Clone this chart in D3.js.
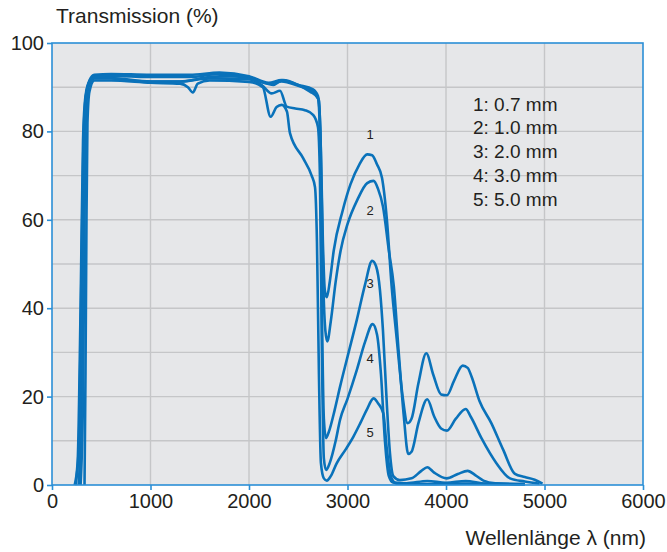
<!DOCTYPE html>
<html>
<head>
<meta charset="utf-8">
<script src="https://cdn.jsdelivr.net/npm/d3@7"></script>
<style>
	body { margin: 0; background: #fff; }
	svg text { font-family: "Liberation Sans", Arial, sans-serif; fill: #231f20; }
</style>
</head>
<body>
<div id="chart"></div>
<script>

// wavelength (nm), transmission (%), one list per sample thickness
const curve1 = [[230,0],[260,5],[290,40],[315,78],[340,88],[380,91.5],[430,92.8],[600,93],[1000,92.8],[1400,92.8],[1700,93.3],[2000,92.5],[2200,91],[2330,91.6],[2500,90.5],[2650,89.5],[2700,88],[2725,80],[2750,55],[2770,44],[2790,42.5],[2820,46],[2860,53],[2950,62],[3030,68],[3120,72.5],[3200,74.8],[3250,74.6],[3300,72.5],[3350,69.5],[3400,60],[3448,45],[3500,33],[3560,20],[3610,14],[3650,15],[3720,23],[3800,29.8],[3870,25],[3950,20.5],[4010,20.3],[4080,23.5],[4170,27],[4220,26.5],[4260,24.5],[4340,19],[4460,14],[4580,8],[4700,2.5],[4800,1.8],[4900,1.2],[4980,0.3]];

const curve2 = [[240,0],[275,10],[300,50],[325,82],[350,89],[400,92],[450,92.5],[700,92.5],[1000,92.3],[1400,92.3],[1700,93],[2000,92.3],[2200,90.8],[2330,91.3],[2500,90.3],[2650,89],[2710,87],[2730,75],[2755,45],[2775,35],[2795,32.5],[2830,37],[2880,46],[2930,53],[3000,59],[3100,64.5],[3200,68.3],[3265,68.8],[3310,67],[3360,63],[3420,53],[3470,45],[3520,30],[3570,16],[3617,7],[3650,7.5],[3720,14],[3810,19.4],[3880,15.5],[3950,12.8],[4010,12.3],[4100,15],[4200,17.2],[4250,15.5],[4360,10.6],[4510,5],[4650,1.5],[4800,0.8],[4950,0.3]];

const curve3 = [[270,0],[295,15],[315,55],[335,84],[360,90],[420,92.3],[500,92.3],[800,91.5],[1000,91.3],[1300,91.3],[1600,92.3],[1800,92.5],[2000,92],[2150,91],[2245,90.5],[2345,91.6],[2500,90.5],[2620,89],[2700,87.5],[2720,80],[2740,40],[2760,15],[2782,10.6],[2810,12],[2870,17],[2924,22.2],[3000,29],[3094,37.3],[3180,45.5],[3250,50.7],[3290,49.5],[3330,44],[3360,35],[3400,18],[3431,7.2],[3465,2],[3530,1.1],[3650,1.5],[3750,3.2],[3810,4],[3880,2.8],[4007,1.5],[4120,2.5],[4220,3.2],[4300,2.2],[4380,1],[4500,0.4],[4800,0.2]];

const curve4 = [[290,0],[315,20],[330,60],[345,85],[370,90],[430,92],[600,92],[1000,91.3],[1300,91.3],[1600,92],[2000,91.8],[2130,90.5],[2230,88.6],[2315,89.2],[2383,85.6],[2470,85.2],[2568,84.8],[2653,83.7],[2700,81],[2720,70],[2740,30],[2760,6],[2782,3.4],[2820,5],[2880,10],[2924,14.7],[3000,19.5],[3094,26],[3180,32.5],[3255,36.4],[3300,34],[3340,25],[3380,10],[3420,2],[3460,0.6],[3600,0.4],[3810,0.9],[4000,0.5],[4200,0.9],[4400,0.3],[4800,0.2]];

const curve5 = [[330,0],[340,25],[350,60],[360,82],[380,89],[430,91.5],[600,91.5],[1000,91],[1300,90.8],[1380,90],[1430,88.8],[1480,90.8],[1600,91.5],[2000,91.2],[2140,90],[2220,83.3],[2280,85.5],[2332,86],[2385,84.5],[2416,79.6],[2548,74],[2636,70],[2670,67.4],[2690,55],[2710,25],[2730,5],[2760,1.5],[2790,1],[2830,2],[2890,4.9],[2980,8],[3059,10.9],[3130,14],[3195,17],[3265,19.6],[3310,18.5],[3364,16.2],[3400,8],[3448,1.5],[3500,0.3],[3800,0.2],[4200,0.3],[4800,0.1]];

const curves = [curve1, curve2, curve3, curve4, curve5];
const curveNames = ['1', '2', '3', '4', '5'];
const legendLabels = ['1: 0.7 mm', '2: 1.0 mm', '3: 2.0 mm', '4: 3.0 mm', '5: 5.0 mm'];

// where the little curve numbers sit, in data units
const numberX = 3230;
const numberY = [79.2, 62.2, 45.5, 28.7, 11.8];

const xTicks = [0, 1000, 2000, 3000, 4000, 5000, 6000];
const yTicks = [0, 20, 40, 60, 80, 100];

// ----------------------------------
// SET UP
// ----------------------------------

const width = 667,
	height = 552,
	margin = {top: 43, right: 24, bottom: 67, left: 52},
	innerWidth = width - margin.left - margin.right,
	innerHeight = height - margin.top - margin.bottom;

const lineBlue = '#0a72ba',
	frameBlue = '#2b8fd6';

const svg = d3.select('#chart')
	.append('svg')
	.attr('width', width)
	.attr('height', height);

const xScale = d3.scaleLinear().domain([0, 6000]).range([0, innerWidth]);
const yScale = d3.scaleLinear().domain([0, 100]).range([innerHeight, 0]);

const chartInner = svg.append('g')
	.attr('transform', `translate(${margin.left}, ${margin.top})`);

// background
chartInner.append('rect')
	.attr('width', innerWidth)
	.attr('height', innerHeight)
	.attr('fill', '#e6e7e9');

// ----------------------------------
// GRID
// ----------------------------------

chartInner.append('g')
	.selectAll('line')
	.data(d3.range(1000, 6000, 1000))
	.join('line')
	.attr('x1', d => xScale(d)).attr('x2', d => xScale(d))
	.attr('y1', 0).attr('y2', innerHeight)
	.attr('stroke', '#c5c6c8').attr('stroke-width', 1.4);

chartInner.append('g')
	.selectAll('line')
	.data(d3.range(10, 100, 10))
	.join('line')
	.attr('y1', d => yScale(d)).attr('y2', d => yScale(d))
	.attr('x1', 0).attr('x2', innerWidth)
	.attr('stroke', '#c5c6c8').attr('stroke-width', 1.4);

// ----------------------------------
// CURVES
// ----------------------------------

const line = d3.line()
	.x(d => xScale(d[0]))
	.y(d => yScale(d[1]))
	.curve(d3.curveMonotoneX);

chartInner.append('g')
	.selectAll('path')
	.data(curves)
	.join('path')
	.attr('d', line)
	.attr('fill', 'none')
	.attr('stroke', lineBlue)
	.attr('stroke-width', 2.6)
	.attr('stroke-linejoin', 'round');

chartInner.append('g')
	.selectAll('text')
	.data(curveNames)
	.join('text')
	.attr('x', xScale(numberX))
	.attr('y', (d, i) => yScale(numberY[i]))
	.attr('dy', '0.35em')
	.attr('text-anchor', 'middle')
	.style('font-size', '13px')
	.text(d => d);

// frame
chartInner.append('rect')
	.attr('width', innerWidth)
	.attr('height', innerHeight)
	.attr('fill', 'none')
	.attr('stroke', frameBlue)
	.attr('stroke-width', 1.6);

// ----------------------------------
// AXES
// ----------------------------------

const xAxis = chartInner.append('g')
	.attr('transform', `translate(0, ${innerHeight})`)
	.call(d3.axisBottom(xScale).tickValues(xTicks).tickFormat(d3.format('d')).tickSize(5).tickPadding(4));

const yAxis = chartInner.append('g')
	.call(d3.axisLeft(yScale).tickValues(yTicks).tickFormat(d3.format('d')).tickSize(5).tickPadding(3));

[xAxis, yAxis].forEach(ax => {
	ax.select('.domain').remove();
	ax.selectAll('.tick line').attr('stroke', frameBlue).attr('stroke-width', 1.6);
	ax.selectAll('.tick text')
		.style('font-size', '20px')
		.style('font-family', '"Liberation Sans", Arial, sans-serif')
		.attr('fill', '#231f20');
});

svg.append('text')
	.attr('x', 56)
	.attr('y', 23)
	.style('font-size', '21px')
	.text('Transmission (%)');

svg.append('text')
	.attr('x', 646)
	.attr('y', 545)
	.attr('text-anchor', 'end')
	.style('font-size', '21px')
	.text('Wellenlänge λ (nm)');

// ----------------------------------
// LEGEND
// ----------------------------------

svg.append('g')
	.selectAll('text')
	.data(legendLabels)
	.join('text')
	.attr('x', 473)
	.attr('y', (d, i) => 104 + i * 23.8)
	.attr('dy', '0.35em')
	.style('font-size', '19px')
	.text(d => d);

</script>
</body>
</html>
